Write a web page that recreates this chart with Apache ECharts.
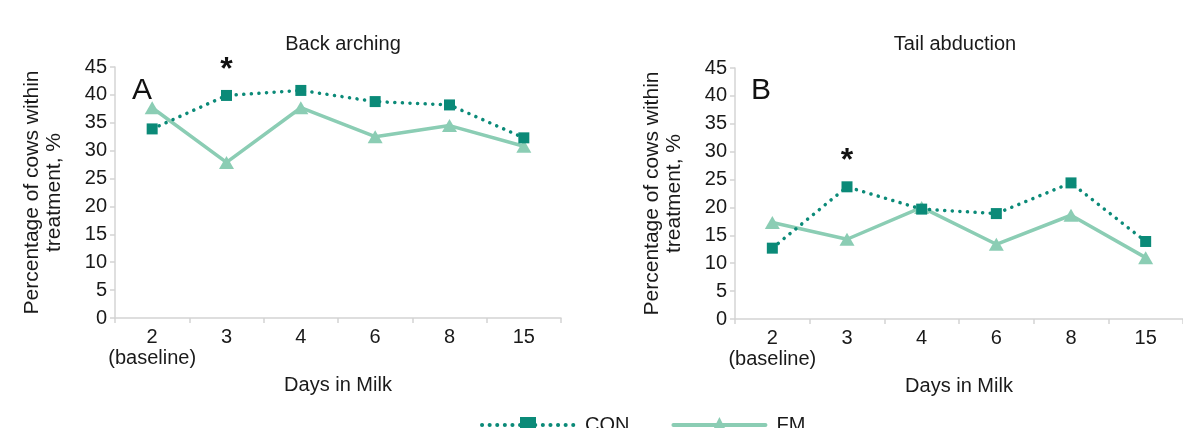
<!DOCTYPE html>
<html>
<head>
<meta charset="utf-8">
<script src="https://cdn.jsdelivr.net/npm/echarts@6/dist/echarts.min.js"></script>
<style>
    html, body { margin: 0; padding: 0; background: #fff; }
    #chart { width: 1183px; height: 428px; }
</style>
</head>
<body>
<div id="chart"></div>
<script>
// data
const days = ['2\n(baseline)', '3', '4', '6', '8', '15'];
const backCON = [33.9, 39.9, 40.8, 38.8, 38.2, 32.3];
const backFM = [37.7, 27.9, 37.7, 32.5, 34.5, 30.8];
const tailCON = [12.7, 23.7, 19.7, 18.9, 24.4, 13.9];
const tailFM = [17.3, 14.3, 20.0, 13.4, 18.6, 11.0];
const yTicks = [0, 45, 5]; // min, max, step

const conColor = '#0b8a78';
const fmColor = '#8bcdb4';
const font = 'Liberation Sans, Arial, sans-serif';
const txt = '#1a1a1a';

function xAxisOf(idx) {
    return {
        type: 'category',
        gridIndex: idx,
        data: days,
        name: 'Days in Milk',
        nameLocation: 'middle',
        nameGap: 57,
        nameTextStyle: { fontFamily: font, fontSize: 20, color: txt },
        axisLine: { lineStyle: { color: '#d4d4d4', width: 1.5 } },
        axisTick: { show: true, length: 5, interval: 0, lineStyle: { color: '#d4d4d4', width: 1.5 } },
        axisLabel: { fontFamily: font, fontSize: 20, color: txt, margin: 9, lineHeight: 21, interval: 0 },
    };
}

function yAxisOf(idx) {
    return {
        type: 'value',
        gridIndex: idx,
        min: yTicks[0],
        max: yTicks[1],
        interval: yTicks[2],
        name: 'Percentage of cows within\ntreatment, %',
        nameLocation: 'middle',
        nameGap: 50,
        nameTextStyle: { fontFamily: font, fontSize: 21, color: txt, lineHeight: 22 },
        axisLine: { show: true, lineStyle: { color: '#d4d4d4', width: 1.5 } },
        axisTick: { show: true, length: 5, lineStyle: { color: '#d4d4d4', width: 1.5 } },
        axisLabel: { fontFamily: font, fontSize: 20, color: txt, margin: 8 },
        splitLine: { show: false },
    };
}

function conSeries(idx, data) {
    return {
        name: 'CON',
        type: 'line',
        xAxisIndex: idx,
        yAxisIndex: idx,
        data: data,
        symbol: 'rect',
        symbolSize: 11,
        itemStyle: { color: conColor },
        lineStyle: { color: conColor, width: 3.5, type: [0.1, 7.5], cap: 'round' },
        z: 3,
        markPoint: {
            symbol: 'rect',
            symbolSize: 1,
            itemStyle: { color: 'rgba(0,0,0,0)' },
            label: { show: true, formatter: '*', fontFamily: font, fontSize: 32, fontWeight: 'bold', color: '#111', position: 'inside' },
            data: [{ coord: [days[1], data[1] + 4.6] }],
        },
    };
}

function fmSeries(idx, data) {
    return {
        name: 'FM',
        type: 'line',
        xAxisIndex: idx,
        yAxisIndex: idx,
        data: data,
        symbol: 'triangle',
        symbolSize: [15, 13],
        itemStyle: { color: fmColor },
        lineStyle: { color: fmColor, width: 3.5 },
        z: 2,
    };
}

const option = {
    animation: false,
    textStyle: { fontFamily: font },
    title: [
        { text: 'Back arching', left: 338, top: 29, textAlign: 'center', textStyle: { fontFamily: font, fontSize: 20, fontWeight: 'normal', color: txt } },
        { text: 'Tail abduction', left: 950, top: 29, textAlign: 'center', textStyle: { fontFamily: font, fontSize: 20, fontWeight: 'normal', color: txt } },
        { text: 'A', left: 127, top: 71, textStyle: { fontFamily: font, fontSize: 30, fontWeight: 'normal', color: '#111' } },
        { text: 'B', left: 746, top: 71, textStyle: { fontFamily: font, fontSize: 30, fontWeight: 'normal', color: '#111' } },
    ],
    legend: {
        data: ['CON', 'FM'],
        left: 475,
        top: 410,
        itemWidth: 92,
        itemHeight: 20,
        itemGap: 42,
        lineStyle: { width: 4, cap: 'round' },
        textStyle: { fontFamily: font, fontSize: 20, color: txt, padding: [0, 0, 0, 6] },
    },
    grid: [
        { left: 115, top: 67, width: 446, height: 251 },
        { left: 735, top: 68, width: 450, height: 251 },
    ],
    xAxis: [xAxisOf(0), xAxisOf(1)],
    yAxis: [yAxisOf(0), yAxisOf(1)],
    series: [
        conSeries(0, backCON),
        fmSeries(0, backFM),
        conSeries(1, tailCON),
        fmSeries(1, tailFM),
    ],
};

const myChart = echarts.init(document.getElementById('chart'), null, { renderer: 'canvas' });
myChart.setOption(option);
</script>
</body>
</html>
